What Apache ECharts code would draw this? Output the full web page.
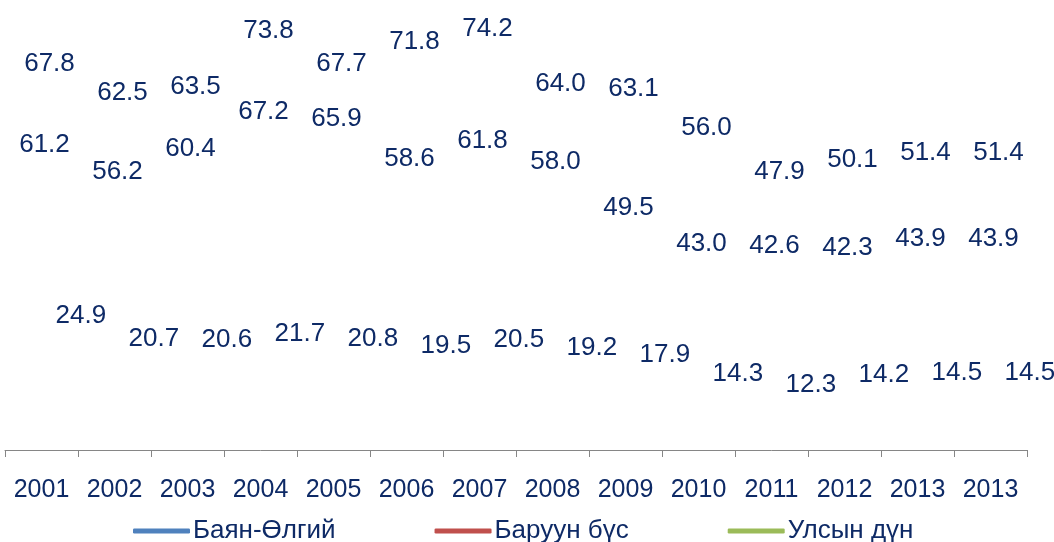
<!DOCTYPE html>
<html>
<head>
<meta charset="utf-8">
<script src="https://cdn.jsdelivr.net/npm/echarts@6/dist/echarts.min.js"></script>
<style>
  html, body { margin: 0; padding: 0; background: #fff; }
  #main { width: 1054px; height: 542px; }
</style>
</head>
<body>
<div id="main"></div>
<script>
// years on the axis (last one repeated in the source)
var years = ["2001", "2002", "2003", "2004", "2005", "2006", "2007",
  "2008", "2009", "2010", "2011", "2012", "2013", "2013"];

var bayanOlgii = [67.8, 62.5, 63.5, 73.8, 67.7, 71.8, 74.2, 64.0, 63.1, 56.0, 47.9, 50.1, 51.4, 51.4];
var baruunBus = [61.2, 56.2, 60.4, 67.2, 65.9, 58.6, 61.8, 58.0, 49.5, 43.0, 42.6, 42.3, 43.9, 43.9];
var ulsynDun = [24.9, 20.7, 20.6, 21.7, 20.8, 19.5, 20.5, 19.2, 17.9, 14.3, 12.3, 14.2, 14.5, 14.5];

var textColor = "#0E2A66";
var fontFam = "'Liberation Sans', Arial, sans-serif";

var chart = echarts.init(document.getElementById("main"));

// label style shared by all three series
function lbl(pos, dist, off) {
  return {
    show: true,
    position: pos,
    distance: dist,
    offset: off,
    color: textColor,
    fontSize: 26,
    fontFamily: fontFam,
    formatter: function (p) {
      return p.value.toFixed(1);
    },
  };
}

// lines are hidden in the original, only the value labels show
function mkSeries(name, color, data, label) {
  return {
    name: name,
    type: "line",
    data: data,
    color: color,
    symbol: "circle",
    symbolSize: 0,
    showSymbol: true,
    lineStyle: { opacity: 0 },
    label: label,
    emphasis: { disabled: true },
    silent: true,
    animation: false,
  };
}

var option = {
  backgroundColor: "#ffffff",
  animation: false,
  grid: {
    left: 5,
    right: 27,
    top: 14,
    bottom: 92,
  },
  legend: {
    left: 128,
    top: 513,
    icon: "roundRect",
    itemWidth: 57,
    itemHeight: 5,
    itemGap: 99,
    textStyle: {
      color: textColor,
      fontSize: 26,
      fontFamily: fontFam,
      padding: [0, 0, 0, -2],
    },
    data: ["Баян-Өлгий", "Баруун бүс", "Улсын дүн"],
  },
  xAxis: {
    type: "category",
    data: years,
    boundaryGap: true,
    axisLine: { show: true, lineStyle: { color: "#868686", width: 1 } },
    axisTick: { show: true, length: 7, lineStyle: { color: "#868686" } },
    axisLabel: {
      color: textColor,
      fontSize: 25,
      fontFamily: fontFam,
      margin: 28,
      interval: 0,
    },
    splitLine: { show: false },
  },
  yAxis: {
    type: "value",
    min: 0,
    max: 80,
    show: false,
  },
  series: [
    mkSeries("Баян-Өлгий", "#4F81BD", bayanOlgii, lbl("top", 4, [8, 0])),
    mkSeries("Баруун бүс", "#C0504D", baruunBus, lbl("bottom", 15, [3, 0])),
    mkSeries("Улсын дүн", "#9BBB59", ulsynDun, lbl("right", 14, [0, 2])),
  ],
};

chart.setOption(option);
</script>
</body>
</html>
